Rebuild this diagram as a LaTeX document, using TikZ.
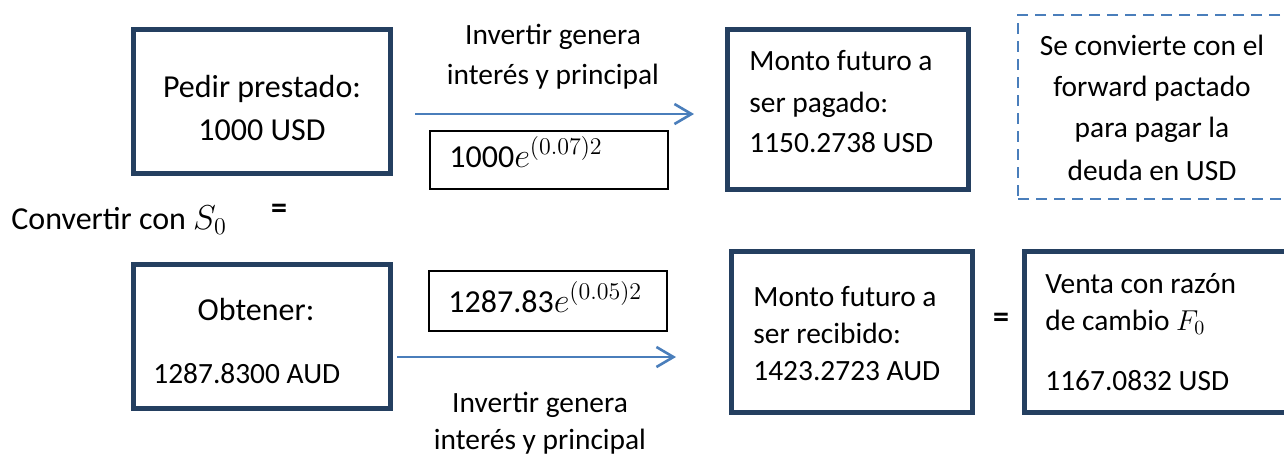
\documentclass[tikz,border=0pt]{standalone}
\usepackage{fontspec}
\setmainfont{Carlito}
\usepackage{amsmath}
\DeclareMathSizes{16}{16}{12.5}{10}
\usetikzlibrary{positioning}
\usetikzlibrary{arrows.meta,calc}
\usetikzlibrary{fit}

\definecolor{navy}{HTML}{243F60}
\definecolor{wordblue}{HTML}{4A7EBB}

\tikzset{%
  navybox/.style={draw=navy, line width=2.5pt, inner sep=0pt},
  thinbox/.style={draw=black, line width=0.75pt, inner sep=0pt},
  dashbox/.style={draw=wordblue, line width=1.4pt, dash pattern=on 5.5pt off 3.5pt, inner sep=0pt},
  txt/.style={inner sep=0pt, font=\fontsize{16}{20}\selectfont},
  stxt/.style={inner sep=0pt, font=\fontsize{14.7}{20}\selectfont},
  flow/.style={draw=wordblue, line width=1.3pt, -{Straight Barb[length=8.5pt,width=10pt,line width=1.3pt]}}
}

\begin{document}
\begin{tikzpicture}[x=0.5pt, y=-0.5pt]
\clip (0,0) rectangle (1284,457);
%\draw[help lines] (0,0) grid (1284,457);
% fila de arriba
\node[navybox, fit={(133.5,29.5) (390.5,173.5)}] (pedir) {};
\node[txt, align=center] (pedirtxt) at (262,108) {Pedir prestado:\\[1.5pt]1000 USD};
\node[stxt, align=center] (invUp) at (553,57) {Invertir genera\\interés y principal};
\coordinate (upA) at (415,114);
\coordinate (upB) at (694,114);
\draw[flow] (upA) -- (upB);
\node[thinbox, fit={(430,131) (668,189)}] (tasaUSD) {};
\node[txt, anchor=base west] (tasaUSDtxt) at (449,167) {1000$e^{(0.07)2}$};
\node[navybox, fit={(727.5,29.5) (968.5,189.5)}] (pagar) {};
\node[stxt, align=left, anchor=west] (pagartxt) at (749,102) {Monto futuro a\\[1pt]ser pagado:\\1150.2738 USD};
\node[dashbox, fit={(1018,15) (1300,199)}] (fwd) {};
\node[stxt, align=center] (fwdtxt) at (1152,108) {Se convierte con el\\[0.5pt]forward pactado\\[0.5pt]para pagar la\\[1.5pt]deuda en USD};

% conversion
\node[txt, anchor=base west] (conv) at (11,229) {Convertir con $S_0$};
\node[txt, font=\fontsize{16}{20}\selectfont\bfseries] (eqUp) at (279,211) {=};

% fila de abajo
\node[navybox, fit={(133.5,264.5) (390.5,408.5)}] (obtener) {};
\node[txt, anchor=base] (obtenertxt) at (256,320) {Obtener:};
\node[stxt, anchor=base west] (audtxt) at (153,383) {1287.8300 AUD};
\node[thinbox, fit={(429,271) (667,331)}] (tasaAUD) {};
\node[txt, anchor=base west] (tasaAUDtxt) at (448,312) {1287.83$e^{(0.05)2}$};
\coordinate (dnA) at (397,357);
\coordinate (dnB) at (676,357);
\draw[flow] (dnA) -- (dnB);
\node[stxt, align=center] (invDn) at (540,423) {Invertir genera\\[-1.5pt]interés y principal};
\node[navybox, fit={(731.5,251.5) (972.5,412.5)}] (recibir) {};
\node[stxt, align=left, anchor=west] (recibirtxt) at (753,334) {Monto futuro a\\[-1.5pt]ser recibido:\\[-1.5pt]1423.2723 AUD};
\node[txt, font=\fontsize{16}{20}\selectfont\bfseries] (eqDn) at (1001,320) {=};
\node[navybox, fit={(1024.5,251.5) (1300,412.5)}] (venta) {};
\node[stxt, align=left, anchor=west] (ventatxt) at (1045,332) {Venta con razón\\[-1.5pt]de cambio $F_0$\\[10pt]1167.0832 USD};
\end{tikzpicture}
\end{document}
